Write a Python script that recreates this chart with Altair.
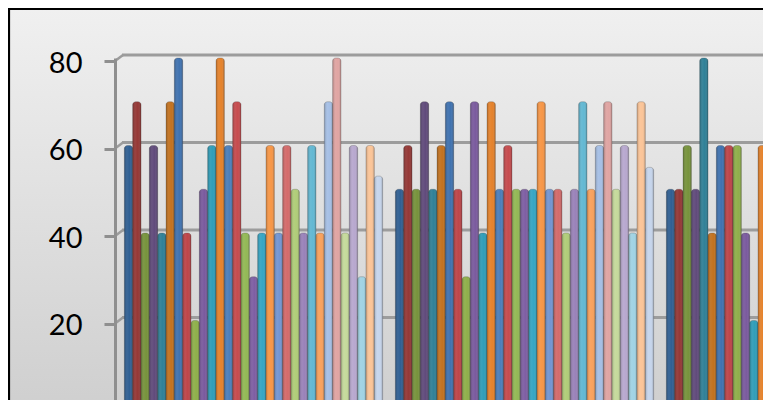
import altair as alt
import pandas as pd

GROUPS = ["A", "B", "C"]
VALUES_A = [60, 70, 40, 60, 40, 70, 80, 40, 20, 50, 60, 80, 60, 70, 40, 30,
            40, 60, 40, 60, 50, 40, 60, 40, 70, 80, 40, 60, 30, 60, 53]
VALUES_B = [50, 60, 50, 70, 50, 60, 70, 50, 30, 70, 40, 70, 50, 60, 50, 50,
            50, 70, 50, 50, 40, 50, 70, 50, 60, 70, 50, 60, 40, 70, 55]
VALUES_C = [50, 50, 60, 50, 80, 40, 60, 60, 60, 40, 20, 60, 40]
COLORS = ["#2f5f93", "#953735", "#77933c", "#604a7b", "#2f8097", "#c3721f",
          "#3f72b0", "#be4448", "#8fb04a", "#7a5a9e", "#2f9db8", "#e5822b",
          "#4a7ebb", "#c64a4d", "#93b955", "#7e5ea3", "#35a5c4", "#f79646",
          "#7295d2", "#d46a6a", "#b0cd78", "#9a82b9", "#62b8d3", "#f9a15c",
          "#a5bfe5", "#e0a4a2", "#c5da9b", "#b8a8cf", "#a0d3e4", "#fbc497",
          "#c6d5ec"]
TICKS = [20, 40, 60, 80]

SERIES = [f"S{i + 1:02d}" for i in range(len(COLORS))]

rows = []
for group, values in zip(GROUPS, [VALUES_A, VALUES_B, VALUES_C]):
    for name, value in zip(SERIES, values):
        rows.append({"group": group, "series": name, "value": value})
bars = pd.DataFrame(rows)
ticks = pd.DataFrame({"v": TICKS})

y_scale = alt.Scale(domain=[0, 80], nice=False, range=[350, 0])
y_axis = alt.Axis(values=TICKS, title=None, grid=False, offset=3, zindex=1,
                  tickSize=11, tickWidth=3, tickColor="#8f8f8f",
                  tickOffset=3, labelOffset=2, labelPadding=22,
                  labelFont="Lato", labelFontSize=29, labelColor="#000000",
                  domainColor="#8f8f8f", domainWidth=3)
x_enc = alt.X("group:N", sort=GROUPS,
              scale=alt.Scale(domain=GROUPS, range=[0, 813],
                              paddingInner=0.047, paddingOuter=0.0235),
              axis=None)
x_off = alt.XOffset("series:N", sort=SERIES,
                    scale=alt.Scale(domain=SERIES, paddingInner=0, paddingOuter=0))
y_enc = alt.Y("value:Q", stack=None, scale=y_scale, axis=y_axis)

frame = alt.Chart(ticks).mark_rect(
    stroke="#000000", strokeWidth=2.2,
    color=alt.Gradient(gradient="linear", x1=0, x2=0, y1=0, y2=1,
                       stops=[alt.GradientStop(color="#f0f0f0", offset=0),
                              alt.GradientStop(color="#cbcbcb", offset=1)]),
).encode(x=alt.value(-109), x2=alt.value(800), y=alt.value(-49), y2=alt.value(400))

grid = alt.Chart(ticks).mark_rule(color="#9c9c9c", strokeWidth=3, yOffset=-3).encode(
    x=alt.value(4), x2=alt.value(700),
    y=alt.Y("v:Q", scale=y_scale, axis=y_axis))

elbow = alt.Chart(ticks).mark_rule(color="#9c9c9c", strokeWidth=2.5, yOffset=3, y2Offset=-3).encode(
    x=alt.value(-3), x2=alt.value(5),
    y=alt.Y("v:Q", scale=y_scale, axis=y_axis), y2=alt.Y2("v:Q"))

base = alt.Chart(bars).mark_bar(
    stroke="#4a4a4a", strokeOpacity=0.4, strokeWidth=0.7,
    cornerRadiusTopLeft=3, cornerRadiusTopRight=3,
).encode(
    x=x_enc, xOffset=x_off, y=y_enc,
    color=alt.Color("series:N", scale=alt.Scale(domain=SERIES, range=COLORS), legend=None),
)

shade = alt.Chart(bars).mark_bar(
    cornerRadiusTopLeft=3, cornerRadiusTopRight=3,
    color=alt.Gradient(gradient="linear", x1=0, x2=1, y1=0, y2=0,
                       stops=[alt.GradientStop(color="rgba(0,0,0,0.22)", offset=0),
                              alt.GradientStop(color="rgba(255,255,255,0.04)", offset=0.4),
                              alt.GradientStop(color="rgba(255,255,255,0)", offset=0.65),
                              alt.GradientStop(color="rgba(0,0,0,0.25)", offset=1)]),
).encode(x=x_enc, xOffset=x_off, y=y_enc)

chart = alt.layer(frame, grid, elbow, base, shade).properties(
    width=645, height=342,
    padding={"left": 110, "top": 50, "right": 0, "bottom": 0},
    autosize=alt.AutoSizeParams(type="none", contains="content"),
    background="#ffffff",
).configure_view(stroke=None)

chart.save("out.html", embed_options={"renderer": "svg", "actions": False})
